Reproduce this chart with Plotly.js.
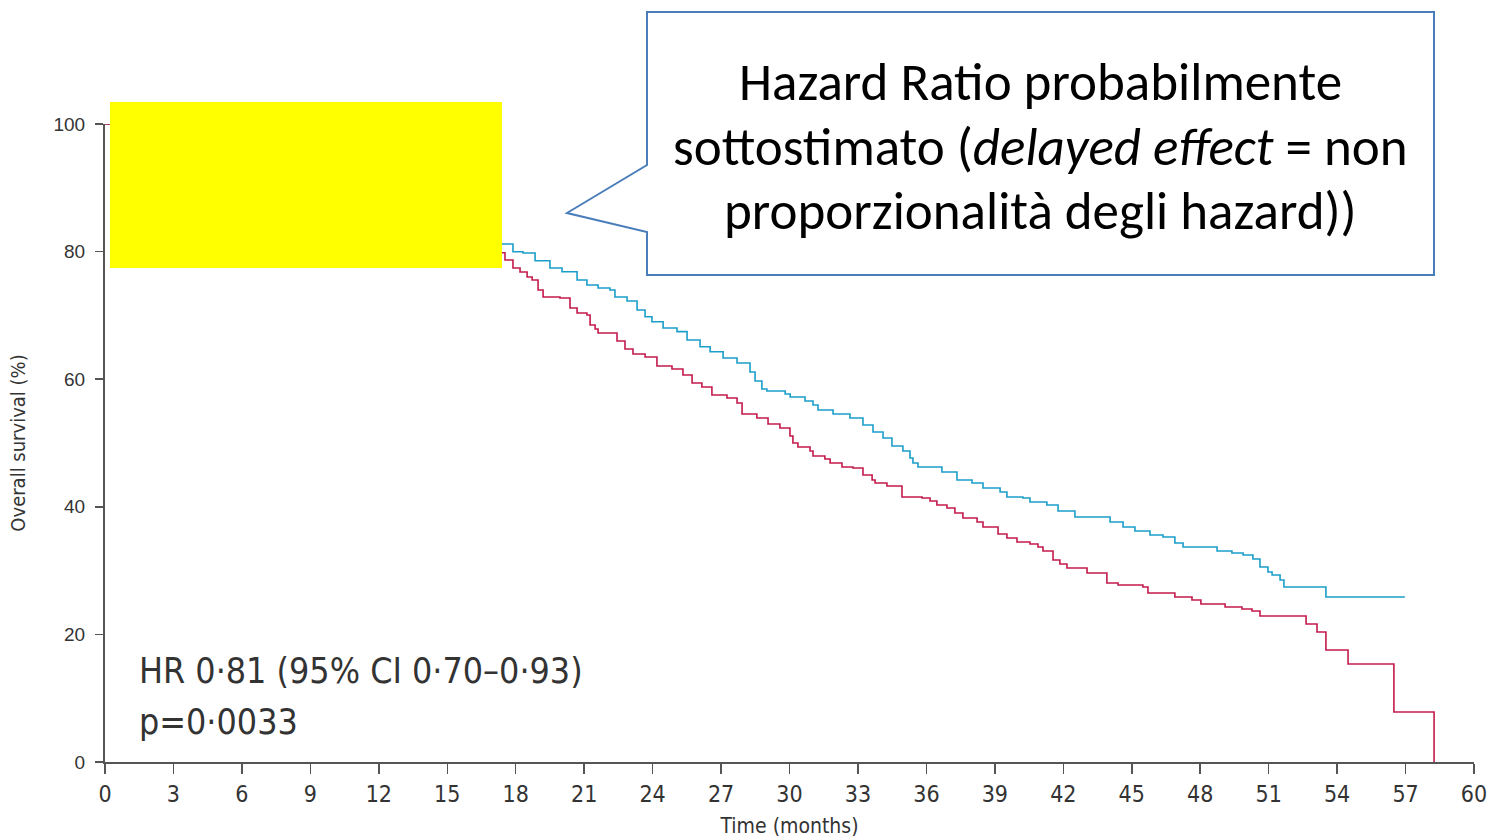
<!DOCTYPE html>
<html>
<head>
<meta charset="utf-8">
<script src="https://cdn.plot.ly/plotly-3.0.1.min.js"></script>
<style>
  html, body { margin: 0; padding: 0; background: #ffffff; }
  #chart { width: 1489px; height: 838px; }
</style>
</head>
<body>
<div id="chart"></div>
<script>
// Time ticks (months) and survival ticks (%)
const xTicks = [0, 3, 6, 9, 12, 15, 18, 21, 24, 27, 30, 33, 36, 39, 42, 45, 48, 51, 54, 57, 60];
const yTicks = [0, 20, 40, 60, 80, 100];

// Blue arm (upper curve): step times (months) and survival (%)
const blueTime = [0, 17.2, 17.88, 18.32, 18.85, 19.50, 20.03, 20.69, 21.12, 21.61, 22.13, 22.35, 22.88, 23.32, 23.67, 23.97, 24.46, 25.07, 25.51, 26.08, 26.52, 27.09, 27.70, 28.27, 28.49, 28.79, 29.01, 29.81, 30.03, 30.68, 31.03, 31.25, 31.91, 32.65, 33.22, 33.66, 34.10, 34.49, 34.97, 35.28, 35.41, 35.63, 36.68, 37.34, 38.00, 38.48, 39.23, 39.53, 40.23, 40.54, 41.28, 41.77, 42.51, 44.05, 44.62, 45.14, 45.80, 46.37, 46.89, 47.25, 48.74, 49.39, 49.88, 50.31, 50.62, 50.97, 51.15, 51.50, 51.67, 53.51, 56.97];
const blueSurv = [100, 81.19, 79.98, 79.78, 78.57, 77.43, 76.85, 75.55, 74.76, 74.29, 73.98, 72.88, 72.26, 70.85, 69.80, 69.01, 68.03, 67.45, 66.14, 65.09, 64.31, 63.32, 62.54, 61.13, 59.72, 58.46, 58.15, 57.68, 57.21, 56.58, 55.96, 55.17, 54.55, 53.92, 52.82, 51.72, 50.78, 49.53, 48.75, 47.65, 46.87, 46.24, 45.45, 44.20, 43.73, 42.95, 42.32, 41.54, 41.38, 40.75, 40.28, 39.34, 38.40, 37.62, 36.83, 36.21, 35.58, 35.27, 34.33, 33.70, 33.07, 32.76, 32.45, 31.82, 30.56, 29.78, 29.31, 28.53, 27.43, 25.86, 25.86];

// Red arm (lower curve): step times (months) and survival (%)
const redTime = [0, 17.2, 17.53, 17.88, 18.19, 18.50, 18.72, 18.98, 19.20, 19.94, 20.38, 20.69, 21.12, 21.26, 21.48, 21.61, 22.44, 22.79, 23.14, 23.67, 24.19, 24.85, 25.33, 25.73, 26.16, 26.60, 27.26, 27.70, 27.92, 28.57, 29.06, 29.58, 30.02, 30.15, 30.37, 30.90, 31.03, 31.55, 31.78, 32.30, 32.78, 33.22, 33.62, 33.75, 34.27, 34.93, 35.81, 36.16, 36.46, 36.90, 37.25, 37.60, 38.22, 38.48, 39.14, 39.53, 39.97, 40.54, 40.89, 41.11, 41.55, 41.85, 42.16, 43.04, 43.91, 44.40, 45.49, 45.71, 46.89, 47.64, 48.03, 49.09, 49.83, 50.27, 50.62, 52.64, 53.12, 53.51, 54.48, 56.49, 58.25];
const redSurv = [100, 79.83, 78.68, 77.43, 76.80, 76.02, 75.55, 73.98, 72.88, 72.73, 71.16, 70.38, 70.06, 68.50, 67.87, 67.24, 65.99, 64.73, 63.95, 63.48, 62.07, 61.60, 60.66, 59.40, 58.78, 57.52, 57.05, 56.27, 54.55, 53.92, 52.98, 52.35, 51.10, 50.00, 49.37, 48.75, 47.96, 47.49, 46.87, 46.24, 46.08, 44.98, 44.20, 43.73, 43.26, 41.54, 41.38, 40.91, 40.28, 39.81, 39.03, 38.24, 37.62, 36.83, 35.74, 35.11, 34.48, 34.17, 33.70, 33.07, 31.66, 31.03, 30.41, 29.62, 28.06, 27.74, 27.43, 26.49, 25.86, 25.39, 24.76, 24.29, 23.98, 23.67, 22.88, 21.63, 20.38, 17.55, 15.36, 7.84, 0];

const calloutLines = [
  "Hazard Ratio probabilmente",
  "sottostimato (<i>delayed effect</i> = non",
  "proporzionalità degli hazard))"
];
const statLines = ["HR 0·81 (95% CI 0·70–0·93)", "p=0·0033"];

// plot area geometry (pixels) for paper-referenced decorations
const W = 1489, H = 838, L = 105, R = 15, T = 124, B = 76;
const pw = W - L - R, ph = H - T - B;
const px = v => (v - L) / pw;
const py = v => (H - B - v) / ph;

const traces = [
  { x: blueTime, y: blueSurv, type: 'scatter', mode: 'lines', line: { shape: 'hv', color: '#1b9ec9', width: 1.6 }, cliponaxis: false, hoverinfo: 'skip' },
  { x: redTime, y: redSurv, type: 'scatter', mode: 'lines', line: { shape: 'hv', color: '#c41a4c', width: 1.6 }, cliponaxis: false, hoverinfo: 'skip' }
];

const calloutPath = 'M ' + px(647) + ' ' + py(12) + ' L ' + px(1434) + ' ' + py(12) + ' L ' + px(1434) + ' ' + py(275) +
  ' L ' + px(647) + ' ' + py(275) + ' L ' + px(647) + ' ' + py(232) + ' L ' + px(567) + ' ' + py(213) +
  ' L ' + px(647) + ' ' + py(165) + ' Z';

const calloutY = [82, 147, 211];
const annotations = calloutLines.map((t, i) => ({
  text: t, xref: 'paper', yref: 'paper', x: px(1040), y: py(calloutY[i]),
  xanchor: 'center', yanchor: 'middle', showarrow: false,
  font: { family: 'Carlito, Lato, sans-serif', size: 53, color: '#000000' }
}));
const statY = [670, 721];
statLines.forEach((t, i) => annotations.push({
  text: t, xref: 'paper', yref: 'paper', x: px(137), y: py(statY[i]),
  xanchor: 'left', yanchor: 'middle', showarrow: false,
  font: { family: '"Liberation Sans Narrow", "DejaVu Sans Condensed", sans-serif', size: 35.5, color: '#333333' }
}));

const layout = {
  width: W, height: H,
  margin: { l: L, r: R, t: T, b: B, pad: 0 },
  paper_bgcolor: '#ffffff', plot_bgcolor: '#ffffff',
  showlegend: false,
  xaxis: {
    range: [0, 60], tickvals: xTicks, ticktext: xTicks.map(String),
    showline: true, linecolor: '#555555', linewidth: 2,
    ticks: 'outside', ticklen: 10, tickwidth: 1.5, tickcolor: '#555555',
    showgrid: false, zeroline: false,
    tickfont: { family: '"Liberation Sans Narrow", "DejaVu Sans Condensed", sans-serif', size: 23, color: '#333333' },
    title: { text: 'Time (months)', standoff: 14, font: { family: '"Liberation Sans Narrow", "DejaVu Sans Condensed", sans-serif', size: 21, color: '#333333' } }
  },
  yaxis: {
    range: [0, 100], tickvals: yTicks, ticktext: yTicks.map(String),
    showline: true, linecolor: '#555555', linewidth: 2,
    ticks: 'outside', ticklen: 8, tickwidth: 1.5, tickcolor: '#555555',
    showgrid: false, zeroline: false, ticklabelstandoff: 6,
    tickfont: { family: '"Liberation Sans", Arial, sans-serif', size: 19, color: '#333333' },
    title: { text: 'Overall survival (%)', standoff: 22, font: { family: '"Liberation Sans Narrow", "DejaVu Sans Condensed", sans-serif', size: 20, color: '#333333' } }
  },
  shapes: [
    { type: 'rect', xref: 'paper', yref: 'paper', x0: px(110), x1: px(502), y0: py(268), y1: py(102),
      fillcolor: '#ffff00', line: { width: 0 }, layer: 'above' },
    { type: 'path', xref: 'paper', yref: 'paper', path: calloutPath,
      fillcolor: '#ffffff', line: { color: '#4a7ebb', width: 2 }, layer: 'above' }
  ],
  annotations: annotations
};

Plotly.newPlot('chart', traces, layout, { displayModeBar: false, staticPlot: true });
</script>
</body>
</html>
